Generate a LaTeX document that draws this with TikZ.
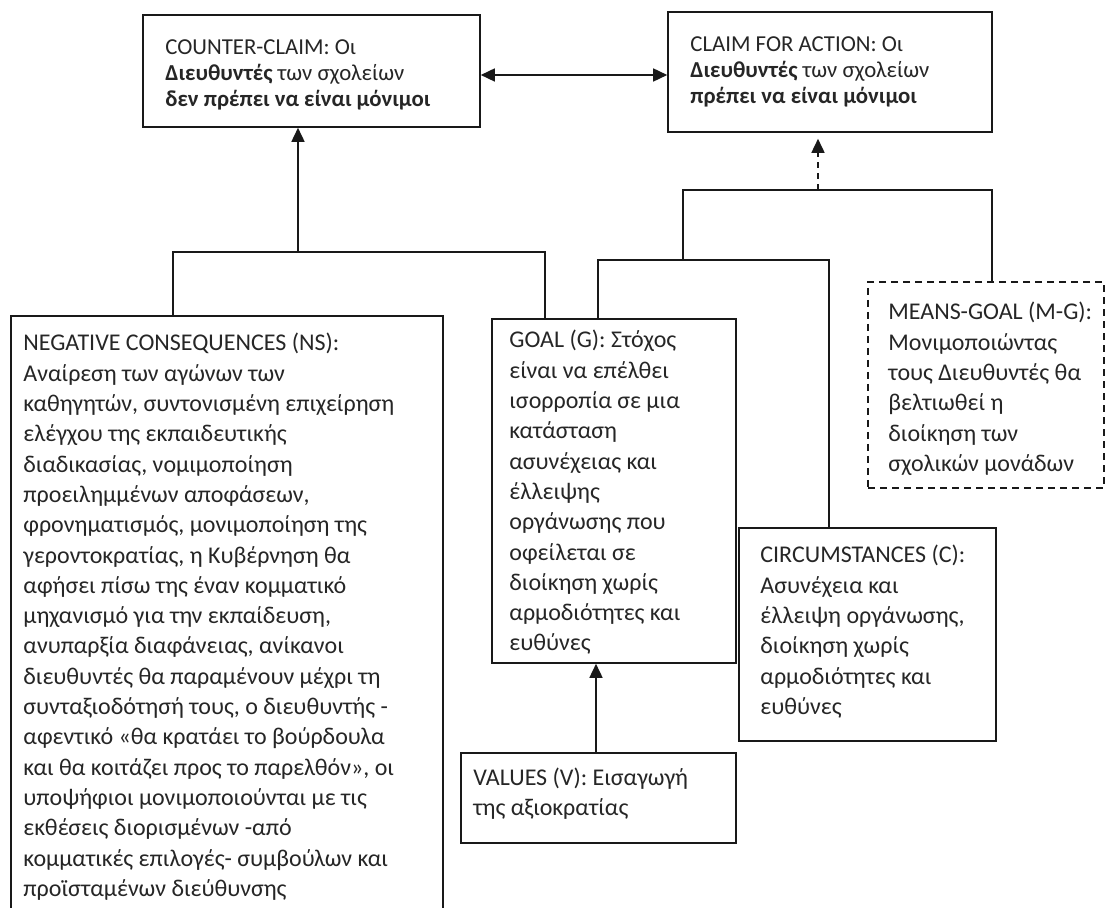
\documentclass[tikz,border=0pt]{standalone}
\usepackage{fontspec}
\setmainfont{Carlito}
\usetikzlibrary{arrows.meta,fit}

% text sizes: body text of the boxes and the two claims at the top
\newcommand\bodysize{\fontsize{12pt}{15.15pt}\selectfont}
\newcommand\headsize{\fontsize{11.4pt}{13pt}\selectfont}
% stacked, left aligned lines whose baseline is the first line
\newcommand\boxlines[1]{\parbox[t]{230pt}{\raggedright #1}}

\tikzset{
  frame/.style={draw=black!90, line width=0.8pt, inner sep=0pt},
  dashframe/.style={frame, dash pattern=on 3.5pt off 2.5pt},
  txt/.style={inner sep=0pt, anchor=base west, text=black!85, font=\bodysize},
  headtxt/.style={txt, font=\headsize},
  link/.style={draw=black!90, line width=0.8pt},
  tip/.tip={Triangle[length=7pt,width=6.5pt]},
  arr/.style={link, -tip},
  dbl/.style={link, tip-tip},
  dasharr/.style={arr, dash pattern=on 3pt off 2.5pt}
}

\begin{document}
\begin{tikzpicture}[x=0.5pt,y=-0.5pt]
\useasboundingbox (0,0) rectangle (1108,908);
\fill[white] (0,0) rectangle (1108,908);
\clip (0,0) rectangle (1108,908);

% ---- claims ----
\node[frame, fit={(143,15) (480,127)}] (cc) {};
\node[headtxt] (cc-t) at (165,55) {\boxlines{COUNTER-CLAIM: Οι\\
\textbf{Διευθυντές} των σχολείων\\
\textbf{δεν πρέπει  να είναι μόνιμοι}}};

\node[frame, fit={(668,12) (992,132)}] (claim) {};
\node[headtxt] (claim-t) at (690,52) {\boxlines{CLAIM FOR ACTION: Οι\\
\textbf{Διευθυντές} των σχολείων\\
\textbf{πρέπει  να είναι μόνιμοι}}};

% ---- premises ----
\node[frame, fit={(11,316) (443,930)}] (ns) {};
\node[txt] (ns-t) at (23,351) {\boxlines{NEGATIVE CONSEQUENCES  (NS):\\
Αναίρεση  των  αγώνων των\\
καθηγητών, συντονισμένη  επιχείρηση\\
ελέγχου  της εκπαιδευτικής\\
διαδικασίας, νομιμοποίηση\\
προειλημμένων αποφάσεων,\\
φρονηματισμός,  μονιμοποίηση της\\
γεροντοκρατίας,  η Κυβέρνηση  θα\\
αφήσει  πίσω της έναν  κομματικό\\
μηχανισμό  για την εκπαίδευση,\\
ανυπαρξία  διαφάνειας, ανίκανοι\\
διευθυντές  θα παραμένουν  μέχρι τη\\
συνταξιοδότησή  τους, ο διευθυντής -\\
αφεντικό  «θα κρατάει το βούρδουλα\\
και θα κοιτάζει προς το παρελθόν», οι\\
υποψήφιοι μονιμοποιούνται  με τις\\
εκθέσεις  διορισμένων  -από\\
κομματικές  επιλογές- συμβούλων και\\
προϊσταμένων  διεύθυνσης}};

\node[frame, fit={(492,319) (736,663)}] (goal) {};
\node[txt] (goal-t) at (509,348) {\boxlines{GOAL (G): Στόχος\\
είναι να επέλθει\\
ισορροπία  σε μια\\
κατάσταση\\
ασυνέχειας  και\\
έλλειψης\\
οργάνωσης που\\
οφείλεται  σε\\
διοίκηση  χωρίς\\
αρμοδιότητες  και\\
ευθύνες}};

\node[frame, fit={(739,528) (996,741)}] (circ) {};
\node[txt] (circ-t) at (760,563) {\boxlines{CIRCUMSTANCES (C):\\
Ασυνέχεια  και\\
έλλειψη οργάνωσης,\\
διοίκηση  χωρίς\\
αρμοδιότητες  και\\
ευθύνες}};

\node[dashframe, fit={(868,282) (1104,488)}] (mg) {};
\node[txt] (mg-t) at (888,320) {\boxlines{MEANS-GOAL  (M-G):\\
Μονιμοποιώντας\\
τους Διευθυντές  θα\\
βελτιωθεί  η\\
διοίκηση  των\\
σχολικών  μονάδων}};

\node[frame, fit={(461,753) (736,843)}] (val) {};
\node[txt] (val-t) at (473,785) {\boxlines{VALUES (V): Εισαγωγή\\
της αξιοκρατίας}};

% ---- junction points ----
\coordinate (ay) at (0,75);
\coordinate (lj) at (298,252);
\coordinate (lbl) at (173,252);
\coordinate (lbr) at (545,252);
\coordinate (rt) at (818,190);
\coordinate (rtl) at (683,190);
\coordinate (rtr) at (992,190);
\coordinate (rbl) at (598,260);
\coordinate (rbr) at (829,260);
\coordinate (vx) at (596,0);

% ---- connectors ----
\draw[dbl] (cc.east |- ay) -- (claim.west |- ay);
\draw[arr] (lj) -- (lj |- cc.south);
\draw[link] (lbl |- ns.north) -- (lbl) -- (lbr) -- (lbr |- goal.north);

\draw[dasharr, shorten >=3pt] (rt) -- (rt |- claim.south);
\draw[link] (rtl |- rbl) -- (rtl) -- (rtr) -- (rtr |- mg.north);
\draw[link] (rbl |- goal.north) -- (rbl) -- (rbr) -- (rbr |- circ.north);

\draw[arr] (vx |- val.north) -- (vx |- goal.south);
\end{tikzpicture}
\end{document}
